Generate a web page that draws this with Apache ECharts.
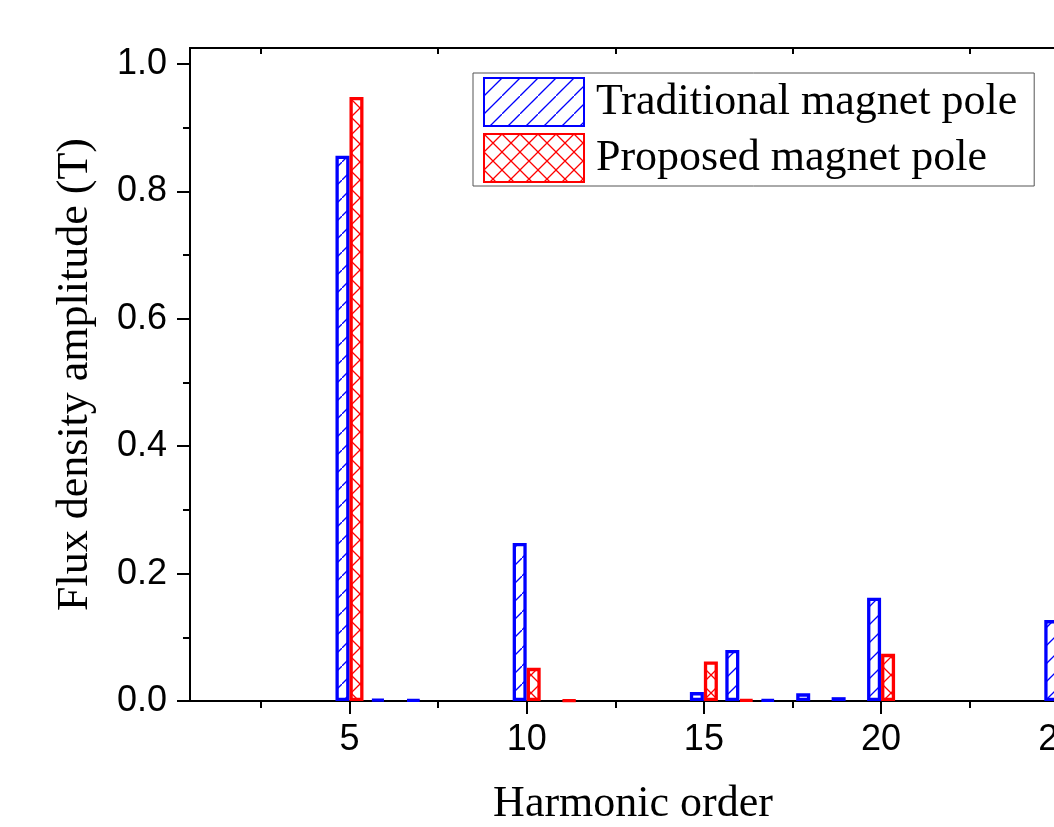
<!DOCTYPE html>
<html>
<head>
<meta charset="utf-8">
<script src="https://cdn.jsdelivr.net/npm/echarts@6/dist/echarts.min.js"></script>
<style>
  html, body { margin: 0; padding: 0; background: #fff; }
  #main { width: 1054px; height: 827px; }
</style>
</head>
<body>
<div id="main"></div>
<script>
// harmonic orders on the x axis
const harmonics = ['1', '2', '3', '4', '5', '6', '7', '8', '9', '10', '11', '12', '13',
  '14', '15', '16', '17', '18', '19', '20', '21', '22', '23', '24', '25'];
// flux density amplitude (T), null = no bar
const traditional = [null, null, null, null, 0.856, 0.003, 0.002, null, null, 0.248, null, null, null,
  null, 0.014, 0.080, 0.002, 0.012, 0.006, 0.162, null, null, null, null, 0.127];
const proposed = [null, null, null, null, 0.948, null, null, null, null, 0.052, 0.001, null, null,
  null, 0.062, 0.002, null, null, null, 0.074, null, null, null, null, null];
const majorX = [5, 10, 15, 20, 25];
const minorX = [2.5, 7.5, 12.5, 17.5, 22.5];
const majorY = [0, 0.2, 0.4, 0.6, 0.8, 1.0];
const minorY = [0.1, 0.3, 0.5, 0.7, 0.9];

// hatch fills like the ones Origin uses
function hatch(color, cross) {
  const p = 18;
  const c = document.createElement('canvas');
  c.width = p; c.height = p;
  const ctx = c.getContext('2d');
  ctx.fillStyle = '#fff';
  ctx.fillRect(0, 0, p, p);
  ctx.strokeStyle = color;
  ctx.lineWidth = 1.3;
  ctx.beginPath();
  ctx.moveTo(-1, p + 1); ctx.lineTo(p + 1, -1);
  if (cross) {
    ctx.moveTo(-1, -1); ctx.lineTo(p + 1, p + 1);
  }
  ctx.stroke();
  return { image: c, repeat: 'repeat' };
}

const black = '#000';
const sans = 'Liberation Sans';
const serif = 'Liberation Serif';

function tickAxis(position, values, len, inside, extra) {
  return Object.assign({
    type: 'value',
    position: position,
    min: 0.5,
    max: 25.5,
    axisLine: { show: true, lineStyle: { color: black, width: 2 } },
    axisTick: { show: true, inside: inside, length: len, customValues: values, lineStyle: { color: black, width: 2 } },
    axisLabel: { show: false },
    splitLine: { show: false }
  }, extra || {});
}

function yTickAxis(position, values, len, inside, extra) {
  return Object.assign({
    type: 'value',
    position: position,
    min: 0,
    max: 1.025,
    axisLine: { show: true, lineStyle: { color: black, width: 2 } },
    axisTick: { show: true, inside: inside, length: len, customValues: values, lineStyle: { color: black, width: 2 } },
    axisLabel: { show: false },
    splitLine: { show: false }
  }, extra || {});
}

const chart = echarts.init(document.getElementById('main'));

chart.setOption({
  animation: false,
  backgroundColor: '#fff',
  grid: { left: 190, top: 48, width: 886, height: 653, outerBoundsMode: 'none', containLabel: false },
  legend: {
    left: 473,
    top: 73,
    orient: 'vertical',
    icon: 'rect',
    itemWidth: 100,
    itemHeight: 48,
    itemGap: 6,
    padding: [4, 17, 3, 10],
    borderColor: '#555',
    borderWidth: 1,
    textStyle: { fontFamily: serif, fontSize: 44, color: black, padding: [0, 0, 0, 7] },
    data: ['Traditional magnet pole', 'Proposed magnet pole']
  },
  xAxis: [
    { type: 'category', data: harmonics, show: false, boundaryGap: true },
    tickAxis('bottom', majorX, 13, false, {
      axisLabel: { show: true, customValues: majorX, fontFamily: sans, fontSize: 36, color: black, margin: 21 },
      name: 'Harmonic order',
      nameLocation: 'middle',
      nameGap: 81,
      nameTextStyle: { fontFamily: serif, fontSize: 44, color: black }
    }),
    tickAxis('bottom', minorX, 7, false),
    tickAxis('top', majorX, 12, true),
    tickAxis('top', minorX, 6, true)
  ],
  yAxis: [
    yTickAxis('left', majorY, 13, false, {
      axisLabel: {
        show: true, customValues: majorY, fontFamily: sans, fontSize: 36, color: black, margin: 23,
        formatter: v => v.toFixed(1)
      },
      name: 'Flux density amplitude (T)',
      nameLocation: 'middle',
      nameGap: 93,
      nameTextStyle: { fontFamily: serif, fontSize: 44, color: black }
    }),
    yTickAxis('left', minorY, 7, false),
    yTickAxis('right', majorY, 12, true),
    yTickAxis('right', minorY, 6, true)
  ],
  series: [
    {
      name: 'Traditional magnet pole',
      type: 'bar',
      xAxisIndex: 0,
      yAxisIndex: 0,
      barWidth: 14,
      barGap: '0%',
      data: traditional,
      itemStyle: { color: hatch('#0000ff', false), borderColor: '#0000ff', borderWidth: 3.3 }
    },
    {
      name: 'Proposed magnet pole',
      type: 'bar',
      xAxisIndex: 0,
      yAxisIndex: 0,
      barWidth: 14,
      barGap: '0%',
      data: proposed,
      itemStyle: { color: hatch('#ff0000', true), borderColor: '#ff0000', borderWidth: 3.3 }
    }
  ]
});
</script>
</body>
</html>
